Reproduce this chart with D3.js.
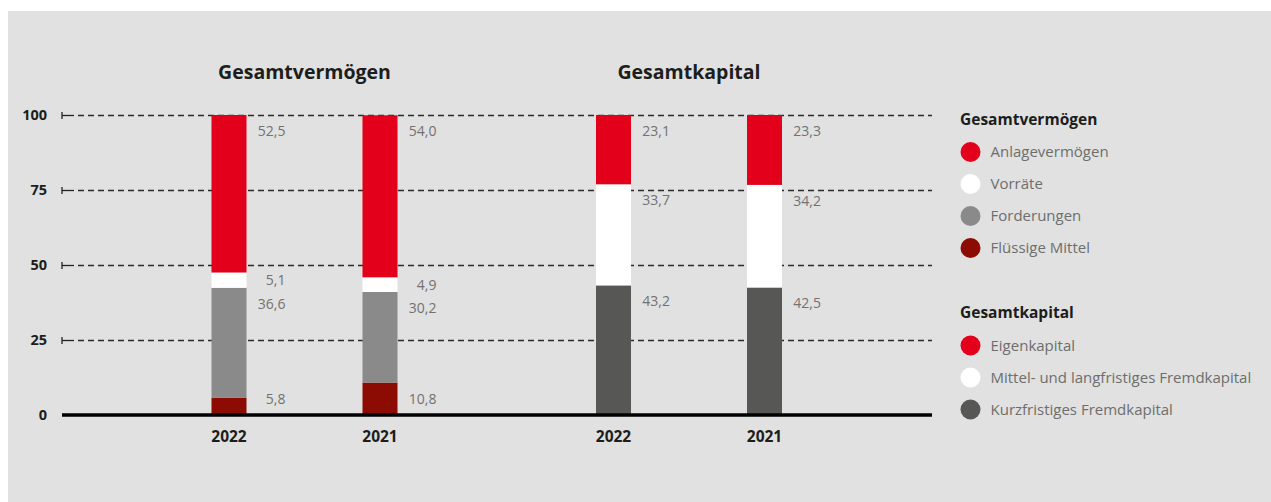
<!DOCTYPE html>
<html>
<head>
<meta charset="utf-8">
<script src="https://cdn.jsdelivr.net/npm/d3@7"></script>
<style>
  html, body { margin: 0; padding: 0; background: #ffffff; }
  svg { display: block; }
  text { font-family: "Open Sans", "DejaVu Sans", sans-serif; }
</style>
</head>
<body>
<svg id="chart" width="1271" height="502"></svg>
<script>
// ---------- data ----------
const groups = ["Gesamtvermögen", "Gesamtkapital"];
const years = ["2022", "2021"];
const yTicks = [0, 25, 50, 75, 100];

// Gesamtvermögen series (bottom to top)
const vermoegenSeries = ["Flüssige Mittel", "Forderungen", "Vorräte", "Anlagevermögen"];
const fluessigeMittel = [5.8, 10.8];
const forderungen = [36.6, 30.2];
const vorraete = [5.1, 4.9];
const anlagevermoegen = [52.5, 54.0];

// Gesamtkapital series (bottom to top)
const kapitalSeries = ["Kurzfristiges Fremdkapital", "Mittel- und langfristiges Fremdkapital", "Eigenkapital"];
const kurzfristig = [43.2, 42.5];
const mittelLangfristig = [33.7, 34.2];
const eigenkapital = [23.1, 23.3];

// legend order (top to bottom)
const legendVermoegen = ["Anlagevermögen", "Vorräte", "Forderungen", "Flüssige Mittel"];
const legendKapital = ["Eigenkapital", "Mittel- und langfristiges Fremdkapital", "Kurzfristiges Fremdkapital"];

const colors = {
  "Anlagevermögen": "#e2001a",
  "Vorräte": "#ffffff",
  "Forderungen": "#8a8a8a",
  "Flüssige Mittel": "#8c0b02",
  "Eigenkapital": "#e2001a",
  "Mittel- und langfristiges Fremdkapital": "#ffffff",
  "Kurzfristiges Fremdkapital": "#575756"
};

// ---------- build tables ----------
const seriesValues = {
  "Flüssige Mittel": fluessigeMittel,
  "Forderungen": forderungen,
  "Vorräte": vorraete,
  "Anlagevermögen": anlagevermoegen,
  "Kurzfristiges Fremdkapital": kurzfristig,
  "Mittel- und langfristiges Fremdkapital": mittelLangfristig,
  "Eigenkapital": eigenkapital
};
function table(keys) {
  return years.map((yr, i) => {
    const row = { year: yr };
    keys.forEach(k => row[k] = seriesValues[k][i]);
    return row;
  });
}
const groupData = [
  { group: groups[0], keys: vermoegenSeries, rows: table(vermoegenSeries) },
  { group: groups[1], keys: kapitalSeries, rows: table(kapitalSeries) }
];

// ---------- layout ----------
const svg = d3.select("#chart");
const W = 1271, H = 502;
svg.append("rect").attr("x", 8).attr("y", 11).attr("width", W - 8).attr("height", H - 11).attr("fill", "#e0e1e0");

const axisX = 62, gridEnd = 932;
const y = d3.scaleLinear().domain([0, 100]).range([415, 115]);
const xGroup = d3.scalePoint().domain(groups).range([304.5, 689]);
const xYear = d3.scalePoint().domain(years).range([-75.5, 75.5]);
const barW = 35;

// gridlines
const grid = svg.append("g");
yTicks.filter(t => t > 0).forEach(t => {
  const yy = y(t) + 0.5;
  grid.append("line").attr("x1", axisX).attr("x2", axisX + 12)
    .attr("y1", yy).attr("y2", yy).attr("stroke", "#222").attr("stroke-width", 1.3);
  grid.append("line").attr("x1", axisX).attr("x2", axisX)
    .attr("y1", yy - 3.5).attr("y2", yy + 3.5).attr("stroke", "#222").attr("stroke-width", 1.3);
  grid.append("line").attr("x1", axisX + 16).attr("x2", gridEnd)
    .attr("y1", yy).attr("y2", yy).attr("stroke", "#2a2a2a").attr("stroke-width", 1.3)
    .attr("stroke-dasharray", "6,4");
});

// axis labels
const axis = d3.axisLeft(y).tickValues(yTicks).tickSize(0).tickPadding(15);
const gAxis = svg.append("g").attr("transform", `translate(${axisX},0)`).call(axis);
gAxis.select(".domain").remove();
gAxis.selectAll("text").attr("font-family", "'Open Sans', sans-serif")
  .attr("font-size", 14.5).attr("font-weight", "bold").attr("fill", "#1d1d1b");

// bars
groupData.forEach(gd => {
  const stack = d3.stack().keys(gd.keys)(gd.rows);
  const cx0 = xGroup(gd.group);
  const g = svg.append("g");
  stack.forEach(layer => {
    layer.forEach(d => {
      const cx = cx0 + xYear(d.data.year);
      g.append("rect")
        .attr("x", cx - barW / 2).attr("width", barW)
        .attr("y", y(d[1])).attr("height", y(d[0]) - y(d[1]))
        .attr("fill", colors[layer.key]);
      const top = y(d[1]), bot = y(d[0]), h = bot - top;
      let cy = h < 24 ? (top + bot) / 2 : Math.min(top + 16, bot - 12);
      if (d[0] === 0) cy = Math.min(cy, bot - 16);
      g.append("text")
        .attr("x", cx + barW / 2 + 39).attr("y", cy)
        .attr("dy", "0.35em").attr("text-anchor", "end")
        .attr("font-size", 14).attr("fill", "#727272")
        .text(d3.format(".1f")(d.data[layer.key]).replace(".", ","));
    });
  });
  // year labels
  years.forEach(yr => {
    svg.append("text").attr("x", cx0 + xYear(yr)).attr("y", 437).attr("dy", "0.35em")
      .attr("text-anchor", "middle").attr("font-size", 15.5).attr("font-weight", "bold")
      .attr("fill", "#1d1d1b").text(yr);
  });
  // group title
  svg.append("text").attr("x", cx0).attr("y", 72).attr("dy", "0.35em")
    .attr("text-anchor", "middle").attr("font-size", 19.5).attr("font-weight", "bold")
    .attr("fill", "#1d1d1b").text(gd.group);
});

// baseline
svg.append("line").attr("x1", axisX).attr("x2", gridEnd).attr("y1", y(0)).attr("y2", y(0))
  .attr("stroke", "#000").attr("stroke-width", 3.5);

// legend
function legend(title, items, yTitle, yFirst) {
  const g = svg.append("g");
  g.append("text").attr("x", 960).attr("y", yTitle).attr("dy", "0.35em")
    .attr("font-size", 15.5).attr("font-weight", "bold").attr("fill", "#1d1d1b").text(title);
  items.forEach((it, i) => {
    const cy = yFirst + i * 32;
    g.append("circle").attr("cx", 970.5).attr("cy", cy).attr("r", 10).attr("fill", colors[it]);
    g.append("text").attr("x", 990.5).attr("y", cy).attr("dy", "0.35em")
      .attr("font-size", 15).attr("fill", "#6e6e6e").text(it);
  });
}
legend(groups[0], legendVermoegen, 120, 152);
legend(groups[1], legendKapital, 313, 345.5);
</script>
</body>
</html>
